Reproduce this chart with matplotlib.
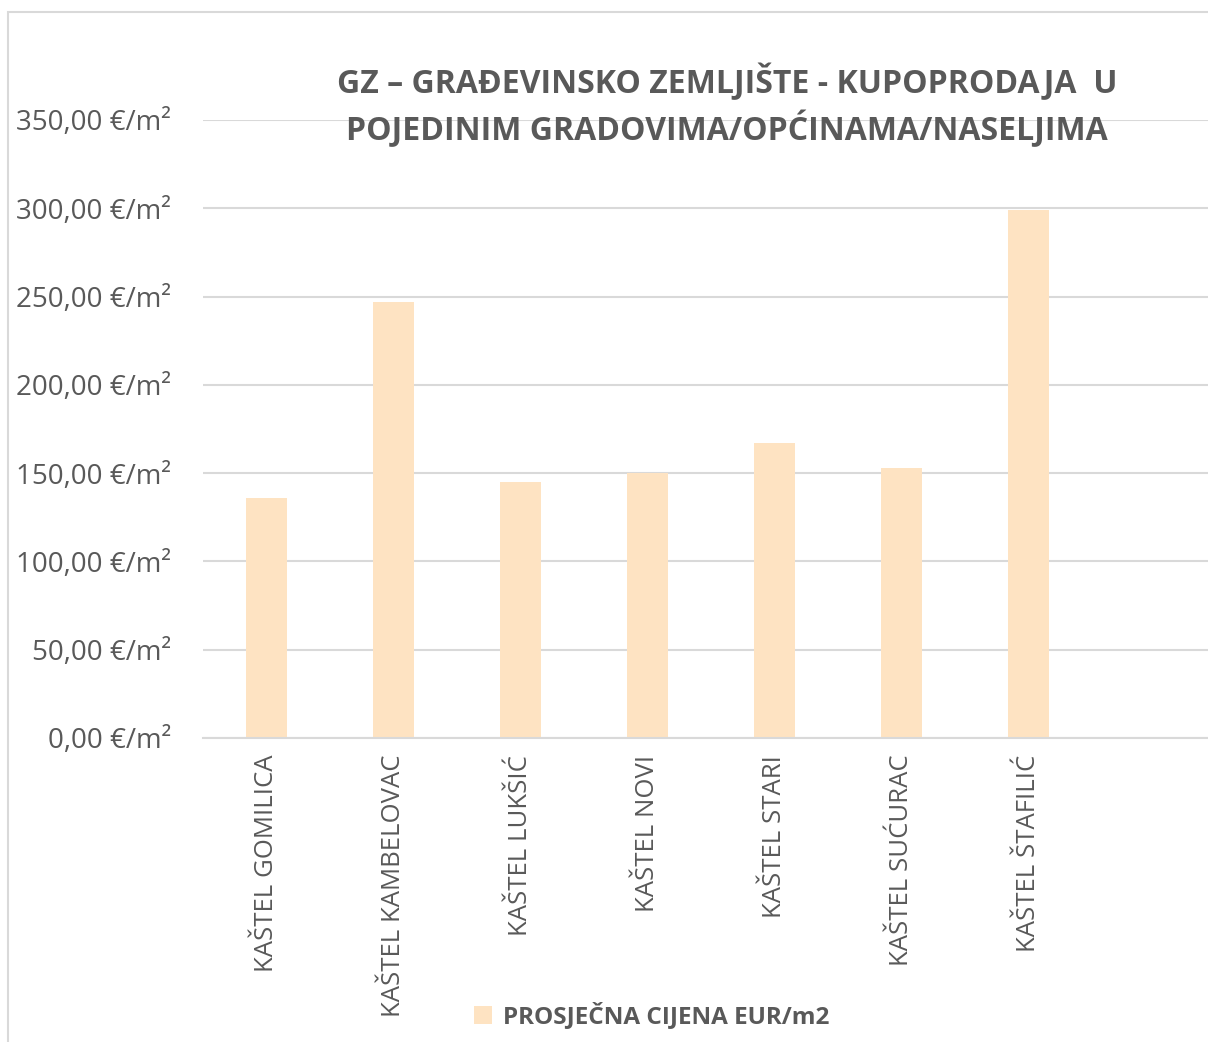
import matplotlib.pyplot as plt
from matplotlib.patches import Rectangle
from matplotlib.ticker import FuncFormatter

plt.rcParams['font.family'] = ['Open Sans', 'DejaVu Sans']

# data
naselja = ['KAŠTEL GOMILICA', 'KAŠTEL KAMBELOVAC', 'KAŠTEL LUKŠIĆ', 'KAŠTEL NOVI',
           'KAŠTEL STARI', 'KAŠTEL SUĆURAC', 'KAŠTEL ŠTAFILIĆ', '']
cijene = [135.7, 247.2, 144.9, 149.8, 166.8, 152.8, 299.2, None]
y_ticks = [0, 50, 100, 150, 200, 250, 300, 350]
naslov = 'GZ – GRAĐEVINSKO ZEMLJIŠTE - KUPOPRODAJA  U\nPOJEDINIM GRADOVIMA/OPĆINAMA/NASELJIMA'
legenda = 'PROSJEČNA CIJENA EUR/m2'

grey = '#595959'
grid_grey = '#d9d9d9'
bar_col = '#FEE3C2'

W, H = 1208, 1042
fig = plt.figure(figsize=(W / 100, H / 100), dpi=100)

# outer chart border (cropped at right/bottom in the reference)
fig.patches.append(Rectangle((8 / W, -0.1), 1.2, 1 - 12 / H + 0.1, transform=fig.transFigure,
                             fill=False, edgecolor=grid_grey, linewidth=1.5))

ax = fig.add_axes([203 / W, (H - 738) / H, (1219 - 203) / W, (738 - 120) / H])

x = list(range(len(naselja)))
vals = [v if v is not None else 0 for v in cijene]
bars = ax.bar(x, vals, width=0.32, color=bar_col, label=legenda, zorder=2)

ax.set_xlim(-0.5, len(naselja) - 0.5)
ax.set_ylim(0, 350)
ax.set_yticks(y_ticks)
ax.yaxis.set_major_formatter(FuncFormatter(lambda v, p: f'{v:.2f}'.replace('.', ',') + ' €/m²'))
ax.set_xticks(x)
ax.set_xticklabels(naselja, rotation=90, va='top', ha='center')

ax.grid(axis='y', color=grid_grey, linewidth=1.5, zorder=0)
for s in ['top', 'right', 'left']:
    ax.spines[s].set_visible(False)
ax.spines['bottom'].set_color(grid_grey)
ax.spines['bottom'].set_linewidth(1.5)
ax.tick_params(axis='both', length=0, colors=grey)
ax.tick_params(axis='y', pad=23, labelsize=20)
ax.tick_params(axis='x', pad=12, labelsize=18.5)

fig.text(727 / W, 1 - 106 / H, naslov, ha='center', va='center', fontsize=23,
         fontweight='bold', color=grey, linespacing=1.3)

fig.legend(handles=[bars], labels=[legenda], loc='center', bbox_to_anchor=(652 / W, 1 - 1016 / H),
           frameon=False, handlelength=0.75, handleheight=0.75, handletextpad=0.45,
           prop={'weight': 'bold', 'size': 17.5}, labelcolor=grey)

fig.savefig('out.png', dpi=100)
